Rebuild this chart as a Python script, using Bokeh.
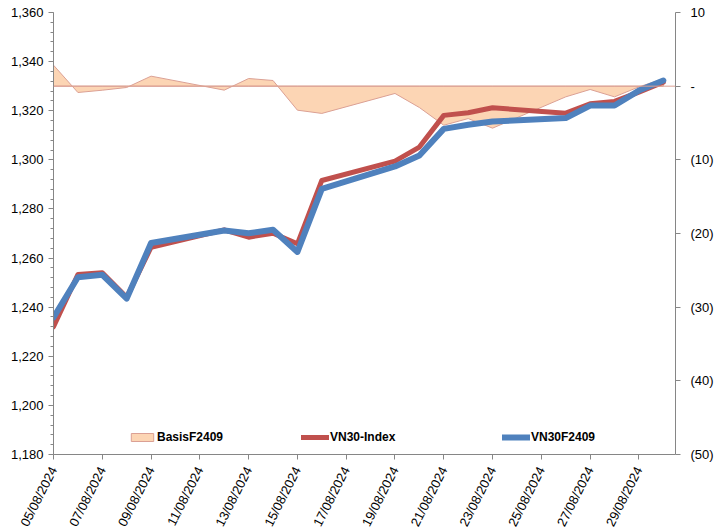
from datetime import datetime
from bokeh.plotting import figure
from bokeh.models import (Range1d, LinearAxis, FixedTicker, DatetimeTickFormatter,
                          NumeralTickFormatter, CustomJSTickFormatter, Span, Legend, LegendItem,
                          ColumnDataSource)
from bokeh.embed import file_html
from bokeh.resources import INLINE

# ---- data ----
dates = ["05/08/2024", "06/08/2024", "07/08/2024", "08/08/2024", "09/08/2024",
         "12/08/2024", "13/08/2024", "14/08/2024", "15/08/2024", "16/08/2024",
         "19/08/2024", "20/08/2024", "21/08/2024", "22/08/2024", "23/08/2024",
         "26/08/2024", "27/08/2024", "28/08/2024", "29/08/2024", "30/08/2024"]
vn30_index = [1232.0, 1253.3, 1254.0, 1244.0, 1264.4, 1271.5, 1268.5, 1270.1, 1265.8, 1291.6,
              1299.5, 1305.2, 1318.1, 1319.2, 1321.2, 1319.0, 1322.8, 1323.8, 1327.6, 1331.6]
vn30f2409 = [1235.8, 1252.2, 1253.2, 1243.5, 1266.1, 1271.2, 1270.1, 1271.5, 1262.5, 1288.2,
             1297.3, 1301.8, 1312.6, 1314.3, 1315.6, 1317.0, 1322.1, 1322.1, 1328.2, 1332.3]
basis = [2.85, -0.86, -0.55, -0.18, 1.36, -0.54, 1.04, 0.77, -3.26, -3.7,
         -0.99, -2.9, -5.3, -4.4, -5.7, -1.45, -0.45, -1.45, -0.1, 1.0]
tick_dates = ["05/08/2024", "07/08/2024", "09/08/2024", "11/08/2024", "13/08/2024",
              "15/08/2024", "17/08/2024", "19/08/2024", "21/08/2024", "23/08/2024",
              "25/08/2024", "27/08/2024", "29/08/2024"]
x_start, x_end = "05/08/2024 00:00", "30/08/2024 12:00"
left_min, left_max = 1180, 1360
right_min, right_max = -50, 10

def ms(s, fmt="%d/%m/%Y"):
    return (datetime.strptime(s, fmt) - datetime(1970, 1, 1)).total_seconds() * 1000

xs = [ms(d) for d in dates]

FONT = "Liberation Sans"
AXIS_C = "#868686"
RED = "#C0504D"
BLUE = "#4F81BD"
FILL = "#FCD5B4"
EDGE = "#DBA094"

p = figure(frame_width=622, frame_height=442, output_backend="svg", toolbar_location=None,
           x_axis_type="datetime", y_axis_location="left",
           x_range=Range1d(ms(x_start, "%d/%m/%Y %H:%M"), ms(x_end, "%d/%m/%Y %H:%M")),
           y_range=Range1d(left_min, left_max),
           min_border_top=12, min_border_left=53, min_border_right=0, min_border_bottom=0)
p.extra_y_ranges = {"right": Range1d(right_min, right_max)}
p.outline_line_color = None
p.grid.visible = False
p.background_fill_color = "white"
p.border_fill_color = "white"

# basis area (secondary axis)
poly_x = xs + xs[::-1]
poly_y = basis + [0] * len(basis)
r_basis = p.patch(poly_x, poly_y, fill_color=FILL, line_color=EDGE, line_width=1,
                  y_range_name="right")
p.add_layout(Span(location=0, dimension="width", line_color=EDGE, line_width=1,
                  y_range_name="right"))

src = ColumnDataSource(dict(x=xs, idx=vn30_index, fut=vn30f2409))
r_idx = p.line("x", "idx", source=src, line_color=RED, line_width=5,
               line_join="round", line_cap="round")
r_fut = p.line("x", "fut", source=src, line_color=BLUE, line_width=6,
               line_join="round", line_cap="round")

# axes styling
def style(ax):
    ax.axis_line_color = AXIS_C
    ax.major_tick_line_color = AXIS_C
    ax.minor_tick_line_color = AXIS_C
    ax.major_tick_in = 0
    ax.major_tick_out = 5
    ax.minor_tick_in = 0
    ax.minor_tick_out = 3
    ax.major_label_text_font = FONT
    ax.major_label_text_font_size = "13px"
    ax.major_label_text_color = "black"

xa = p.xaxis[0]
style(xa)
xa.ticker = FixedTicker(ticks=[ms(d) for d in tick_dates])
xa.formatter = DatetimeTickFormatter(days="%d/%m/%Y", months="%d/%m/%Y", hours="%d/%m/%Y")
xa.major_label_orientation = 1.1
xa.major_label_standoff = 8
xa.minor_tick_line_color = None

ya = p.yaxis[0]
style(ya)
ya.ticker = FixedTicker(ticks=list(range(left_min, left_max + 1, 20)),
                        minor_ticks=list(range(left_min, left_max + 1, 4)))
ya.formatter = NumeralTickFormatter(format="0,0")

ra = LinearAxis(y_range_name="right")
style(ra)
ra.ticker = FixedTicker(ticks=list(range(right_min, right_max + 1, 10)))
ra.minor_tick_line_color = None
ra.major_label_standoff = 10
ra.formatter = CustomJSTickFormatter(code="""
    if (tick == 0) return '-';
    if (tick < 0) return '(' + Math.abs(tick) + ')';
    return '' + tick;
""")
p.add_layout(ra, "right")

# legends
def mk_legend(label, r, x):
    lg = Legend(items=[LegendItem(label=label, renderers=[r])], location=(x, 10),
                orientation="horizontal", padding=0, margin=0, spacing=0,
                glyph_width=28, glyph_height=10, label_standoff=1, label_height=14,
                border_line_color=None, background_fill_alpha=0,
                label_text_font=FONT, label_text_font_size="12px",
                label_text_font_style="bold", label_text_color="black")
    p.add_layout(lg, "center")

mk_legend("BasisF2409", r_basis, 75)
mk_legend("VN30-Index", r_idx, 248)
mk_legend("VN30F2409", r_fut, 449)

open("out.html", "w").write(file_html(p, INLINE))
